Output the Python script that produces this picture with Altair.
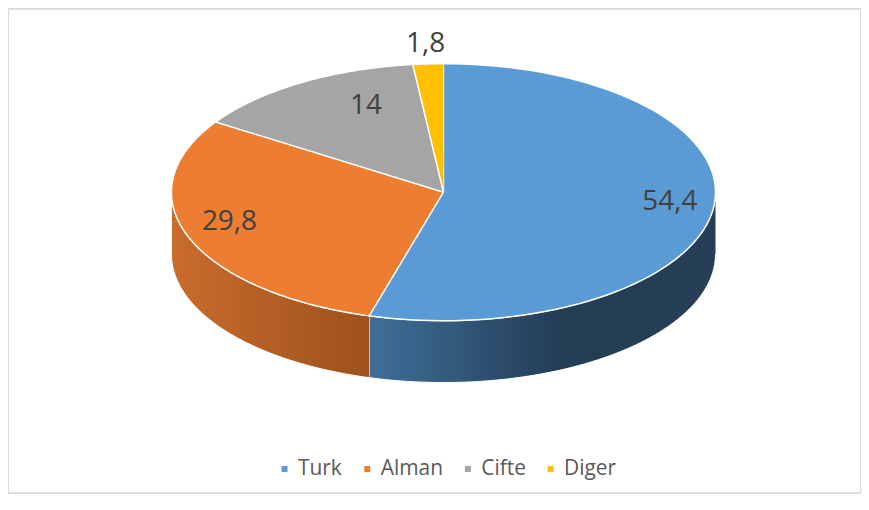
import altair as alt
import pandas as pd

# ---- data ----
categories = ["Turk", "Alman", "Cifte", "Diger"]
values = [54.4, 29.8, 14.0, 1.8]
top_colors = ["#5B9BD5", "#ED7D31", "#A5A5A5", "#FFC000"]

df = pd.DataFrame({"cat": categories, "val": values, "idx": list(range(len(categories)))})

# ---- layout (view = framed chart area) ----
W, H = 856, 486
CX, CY = 437, 184          # centre of the top face inside the view
RX, RY = 273, 129          # ellipse radii
DEPTH = 62 / RY            # thickness of the disc in y-units
N = 90                     # arc resolution

xs = alt.Scale(domain=[-CX / RX, (W - CX) / RX], nice=False, zero=False)
ys = alt.Scale(domain=[-CY / RY, (H - CY) / RY], nice=False, zero=False, reverse=True)

base = (
    alt.Chart(df)
    .transform_window(cum="sum(val)", sort=[alt.SortField("idx")], frame=[None, 0])
    .transform_joinaggregate(total="sum(val)")
    .transform_calculate(
        a0="2*PI*(datum.cum-datum.val)/datum.total",
        a1="2*PI*datum.cum/datum.total",
    )
)


def wall(cat, stops):
    return (
        base.transform_filter(f"datum.cat == '{cat}'")
        .transform_calculate(w0="max(datum.a0, PI/2)", w1="min(datum.a1, 3*PI/2)")
        .transform_filter("datum.w1 > datum.w0")
        .transform_calculate(k=f"sequence(0, {2 * (N + 1)})")
        .transform_flatten(["k"])
        .transform_calculate(
            t=f"datum.k <= {N} ? datum.k/{N} : ({2 * N + 1}-datum.k)/{N}",
            ang="datum.w0 + (datum.w1-datum.w0)*datum.t",
            px="sin(datum.ang)",
            py=f"-cos(datum.ang) + (datum.k > {N} ? {DEPTH} : 0)",
        )
        .mark_line(
            filled=True,
            fill=alt.Gradient(
                gradient="linear",
                stops=[alt.GradientStop(color=c, offset=o) for o, c in stops],
                x1=0, x2=1, y1=0, y2=0,
            ),
            stroke="white",
            strokeWidth=1,
        )
        .encode(
            x=alt.X("px:Q", scale=xs, axis=None),
            y=alt.Y("py:Q", scale=ys, axis=None),
            order=alt.Order("k:Q"),
        )
    )


wall_turk = wall("Turk", [(0, "#3F6F9A"), (0.55, "#233D55"), (1, "#263F57")])
wall_alman = wall("Alman", [(0, "#C96C2C"), (1, "#9E511D")])

top = (
    base.transform_calculate(k=f"sequence(0, {N + 2})")
    .transform_flatten(["k"])
    .transform_calculate(
        ang=f"datum.a0 + (datum.a1-datum.a0)*(datum.k-1)/{N}",
        px="datum.k == 0 ? 0 : sin(datum.ang)",
        py="datum.k == 0 ? 0 : -cos(datum.ang)",
    )
    .mark_line(filled=True, stroke="white", strokeWidth=1.5, strokeJoin="round")
    .encode(
        x=alt.X("px:Q", scale=xs, axis=None),
        y=alt.Y("py:Q", scale=ys, axis=None),
        order=alt.Order("k:Q"),
        detail="cat:N",
        color=alt.Color(
            "cat:N",
            scale=alt.Scale(domain=categories, range=top_colors),
            sort=categories,
            legend=alt.Legend(
                orient="none",
                legendX=267,
                legendY=451,
                direction="horizontal",
                title=None,
                symbolType="square",
                symbolSize=36,
                symbolStrokeWidth=0,
                labelFont="Open Sans",
                labelFontSize=21,
                labelColor="#595959",
                labelOffset=3,
                columnPadding=14,
            ),
        ),
    )
)

labels = (
    base.transform_calculate(
        m="(datum.a0+datum.a1)/2",
        small="datum.val/datum.total < 0.05",
        lx="(datum.small ? 1.16 : 0.84 - 0.35*max(cos(datum.m), 0))*sin(datum.m)",
        ly="datum.small ? -1.155*cos(datum.m) : -0.75*cos(datum.m) - 0.03",
        lab="replace(toString(datum.val), '.', ',')",
    )
    .mark_text(font="Open Sans", fontSize=28, color="#404040", baseline="middle", align="center")
    .encode(
        x=alt.X("lx:Q", scale=xs, axis=None),
        y=alt.Y("ly:Q", scale=ys, axis=None),
        text="lab:N",
    )
)

chart = (
    alt.layer(wall_turk, wall_alman, top, labels)
    .properties(width=W, height=H, padding=0, background="white")
    .configure_view(stroke="#D9D9D9", strokeWidth=2)
)

chart.save("out.html", embed_options={"renderer": "svg", "actions": False})
